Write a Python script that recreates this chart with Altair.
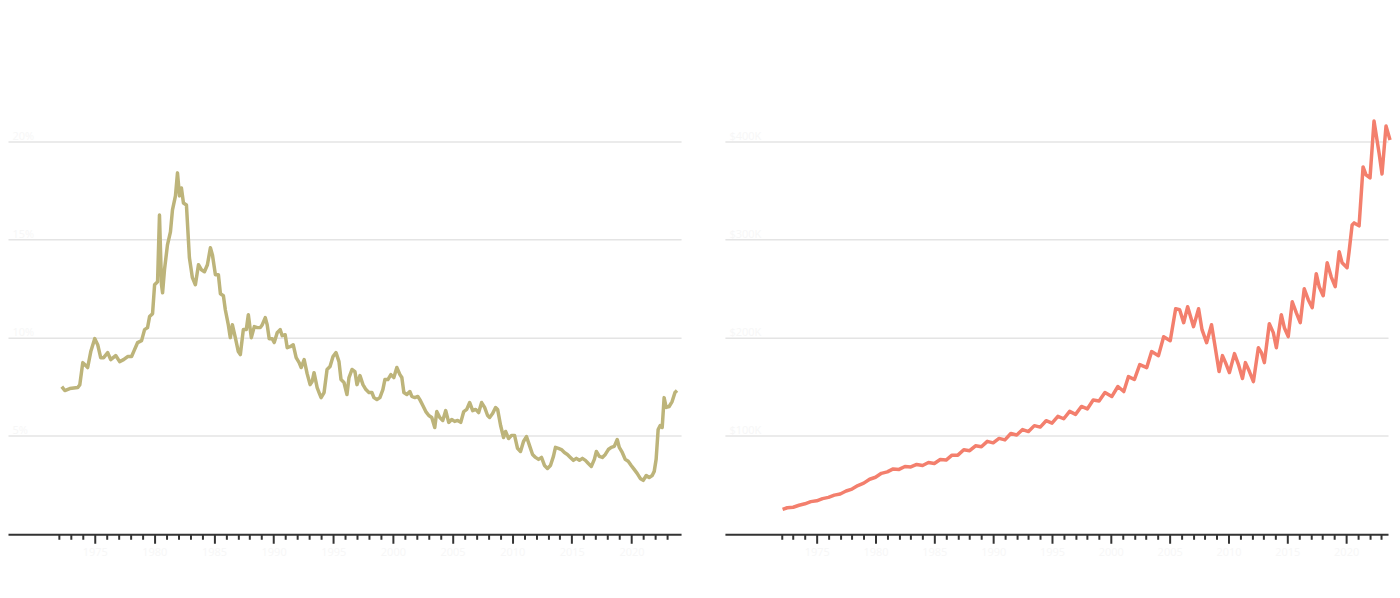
import altair as alt
import pandas as pd

# Left panel: 30-year mortgage rate (%)
years_left = [1972.24, 1972.49, 1972.91, 1973.58, 1973.75, 1974.00, 1974.25, 1974.41, 1974.67, 1975.00,
              1975.25, 1975.50, 1975.75, 1976.09, 1976.34, 1976.76, 1977.09, 1977.42, 1977.76, 1978.09,
              1978.34, 1978.60, 1978.93, 1979.18, 1979.43, 1979.60, 1979.85, 1980.02, 1980.27, 1980.43,
              1980.60, 1980.69, 1980.85, 1981.10, 1981.35, 1981.52, 1981.77, 1981.94, 1982.11, 1982.27,
              1982.44, 1982.69, 1982.94, 1983.19, 1983.44, 1983.70, 1983.95, 1984.20, 1984.45, 1984.70,
              1984.87, 1985.12, 1985.37, 1985.54, 1985.79, 1985.95, 1986.20, 1986.37, 1986.54, 1986.79,
              1987.04, 1987.21, 1987.46, 1987.71, 1987.88, 1988.13, 1988.38, 1988.63, 1988.88, 1989.05,
              1989.30, 1989.46, 1989.63, 1989.88, 1990.05, 1990.30, 1990.55, 1990.72, 1990.97, 1991.14,
              1991.39, 1991.64, 1991.89, 1992.14, 1992.31, 1992.56, 1992.81, 1993.06, 1993.23, 1993.39,
              1993.65, 1993.81, 1993.98, 1994.23, 1994.48, 1994.73, 1994.98, 1995.23, 1995.48, 1995.65,
              1995.90, 1996.15, 1996.32, 1996.57, 1996.82, 1996.99, 1997.24, 1997.49, 1997.74, 1997.99,
              1998.24, 1998.41, 1998.66, 1998.91, 1999.16, 1999.33, 1999.58, 1999.83, 2000.08, 2000.33,
              2000.59, 2000.75, 2000.92, 2001.17, 2001.42, 2001.59, 2001.84, 2002.09, 2002.26, 2002.51,
              2002.76, 2003.01, 2003.26, 2003.51, 2003.68, 2003.93, 2004.18, 2004.43, 2004.68, 2004.93,
              2005.18, 2005.43, 2005.69, 2005.94, 2006.19, 2006.44, 2006.69, 2006.94, 2007.19, 2007.44,
              2007.69, 2007.94, 2008.11, 2008.36, 2008.61, 2008.78, 2009.03, 2009.28, 2009.45, 2009.70,
              2009.95, 2010.20, 2010.45, 2010.70, 2010.95, 2011.20, 2011.45, 2011.71, 2011.96, 2012.21,
              2012.46, 2012.71, 2012.96, 2013.21, 2013.46, 2013.63, 2013.88, 2014.13, 2014.38, 2014.63,
              2014.88, 2015.13, 2015.38, 2015.64, 2015.89, 2016.14, 2016.39, 2016.64, 2016.89, 2017.06,
              2017.31, 2017.56, 2017.81, 2018.06, 2018.31, 2018.56, 2018.81, 2018.98, 2019.23, 2019.48,
              2019.73, 2019.98, 2020.23, 2020.48, 2020.74, 2020.99, 2021.24, 2021.49, 2021.74, 2021.91,
              2022.07, 2022.24, 2022.41, 2022.58, 2022.74, 2022.91, 2023.16, 2023.41, 2023.65, 2023.82]
rates_left = [7.51, 7.31, 7.41, 7.46, 7.61, 8.73, 8.58, 8.48, 9.29, 9.95,
              9.64, 8.98, 8.98, 9.24, 8.88, 9.09, 8.78, 8.88, 9.04, 9.04,
              9.39, 9.75, 9.85, 10.41, 10.51, 11.07, 11.22, 12.69, 12.84, 16.24,
              12.69, 12.28, 13.45, 14.72, 15.38, 16.50, 17.21, 18.38, 17.21, 17.61,
              16.85, 16.75, 14.06, 13.05, 12.69, 13.71, 13.45, 13.35, 13.71, 14.57,
              14.21, 13.20, 13.20, 12.23, 12.13, 11.42, 10.66, 10.00, 10.66, 10.00,
              9.29, 9.14, 10.41, 10.41, 11.17, 10.00, 10.56, 10.51, 10.51, 10.66,
              11.02, 10.66, 9.95, 9.95, 9.75, 10.25, 10.41, 10.10, 10.15, 9.49,
              9.54, 9.64, 8.98, 8.73, 8.48, 8.88, 8.17, 7.61, 7.77, 8.22,
              7.46, 7.21, 6.95, 7.21, 8.38, 8.53, 9.04, 9.24, 8.78, 7.87,
              7.72, 7.11, 7.97, 8.38, 8.27, 7.61, 8.07, 7.61, 7.36, 7.21,
              7.21, 6.95, 6.85, 6.95, 7.36, 7.87, 7.87, 8.12, 7.97, 8.48,
              8.12, 7.97, 7.21, 7.11, 7.26, 7.01, 6.95, 7.01, 6.85, 6.55,
              6.24, 6.04, 5.94, 5.43, 6.24, 5.94, 5.79, 6.29, 5.69, 5.84,
              5.74, 5.79, 5.69, 6.24, 6.35, 6.70, 6.29, 6.35, 6.19, 6.70,
              6.45, 6.04, 5.94, 6.14, 6.45, 6.35, 5.53, 4.92, 5.23, 4.87,
              5.03, 5.03, 4.37, 4.21, 4.72, 4.97, 4.52, 4.06, 3.91, 3.81,
              3.91, 3.50, 3.35, 3.50, 3.96, 4.42, 4.37, 4.31, 4.16, 4.06,
              3.91, 3.76, 3.86, 3.76, 3.86, 3.76, 3.60, 3.45, 3.81, 4.21,
              3.96, 3.91, 4.06, 4.31, 4.42, 4.47, 4.82, 4.42, 4.16, 3.81,
              3.71, 3.50, 3.30, 3.10, 2.84, 2.74, 2.99, 2.89, 2.99, 3.20,
              3.81, 5.33, 5.53, 5.43, 6.95, 6.45, 6.50, 6.75, 7.21, 7.31]

# Right panel: median home price (thousands of dollars)
years_right = [1972.1, 1972.5, 1973.0, 1973.5, 1974.0, 1974.5, 1975.0, 1975.5, 1976.0, 1976.5,
               1977.0, 1977.5, 1978.0, 1978.5, 1979.0, 1979.5, 1980.0, 1980.5, 1981.0, 1981.5,
               1982.0, 1982.5, 1983.0, 1983.5, 1984.0, 1984.5, 1985.0, 1985.5, 1986.0, 1986.5,
               1987.0, 1987.5, 1988.0, 1988.5, 1989.0, 1989.5, 1990.0, 1990.5, 1991.0, 1991.5,
               1992.0, 1992.5, 1993.0, 1993.5, 1994.0, 1994.5, 1995.0, 1995.5, 1996.0, 1996.5,
               1997.0, 1997.5, 1998.0, 1998.5, 1999.0, 1999.5, 2000.08, 2000.6, 2001.1, 2001.5,
               2002.0, 2002.46, 2003.05, 2003.47, 2004.05, 2004.49, 2005.05, 2005.51, 2005.85, 2006.19,
               2006.53, 2006.78, 2007.03, 2007.46, 2007.75, 2008.14, 2008.56, 2008.81, 2009.2, 2009.49,
               2009.75, 2010.08, 2010.51, 2010.85, 2011.19, 2011.44, 2011.78, 2012.12, 2012.54, 2012.8,
               2013.05, 2013.47, 2013.81, 2014.07, 2014.49, 2014.75, 2015.08, 2015.42, 2015.76, 2016.1,
               2016.44, 2016.78, 2017.12, 2017.46, 2017.71, 2018.05, 2018.39, 2018.73, 2019.07, 2019.41,
               2019.66, 2020.08, 2020.25, 2020.51, 2020.68, 2021.10, 2021.44, 2021.69, 2022.03, 2022.37,
               2022.80, 2023.05, 2023.39, 2023.73]
prices_right = [25.4, 27.0, 27.5, 29.5, 31.0, 33.2, 34.0, 36.3, 37.5, 39.8,
                41.0, 44.0, 46.0, 49.5, 52.0, 56.0, 58.0, 62.0, 63.5, 66.5,
                66.0, 69.0, 68.5, 71.0, 70.0, 73.0, 72.0, 76.0, 75.5, 80.5,
                80.5, 86.0, 85.0, 90.0, 89.0, 94.5, 93.0, 97.5, 96.0, 102.5,
                101.0, 106.5, 104.5, 110.5, 109.0, 115.5, 113.0, 120.0, 117.5, 125.0,
                122.0, 130.0, 127.5, 136.5, 135.5, 144.2, 140.1, 150.3, 145.2, 160.4,
                157.4, 172.6, 169.5, 185.8, 181.7, 201.0, 196.9, 229.4, 228.4, 215.2,
                231.5, 221.3, 211.2, 229.4, 208.1, 194.9, 213.2, 194.9, 165.5, 181.7,
                174.6, 164.5, 183.8, 172.6, 158.4, 174.6, 165.5, 155.3, 189.8, 184.8,
                174.6, 214.2, 205.1, 189.8, 223.3, 210.1, 201.0, 236.5, 225.4, 215.2,
                249.7, 238.6, 230.5, 265.0, 251.8, 242.6, 276.1, 261.9, 251.8, 287.3,
                276.1, 271.1, 287.3, 314.7, 316.7, 313.7, 373.6, 365.5, 362.4, 420.3,
                387.8, 366.5, 415.2, 401.0]

x_ticks = list(range(1972, 2024))
left_y_ticks = [5, 10, 15, 20]
right_y_ticks = [100, 200, 300, 400]

left_df = pd.DataFrame({"year": years_left, "rate": rates_left})
right_df = pd.DataFrame({"year": years_right, "price": prices_right})

FAINT = "#f7f7f7"
DARK = "#333333"
GRID = "#e4e4e4"
PLOT_H = 493


def x_axis():
    return alt.Axis(
        values=x_ticks,
        format="d",
        labelExpr="datum.value % 5 === 0 ? datum.label : ''",
        grid=False,
        domainColor=DARK,
        domainWidth=2,
        tickColor=DARK,
        tickWidth=2,
        tickSize={"condition": {"test": "datum.value % 5 === 0", "value": 9}, "value": 5},
        labelColor=FAINT,
        labelFontSize=11,
        labelFont="Noto Sans",
        labelPadding=3,
        title=None,
    )


def y_axis(values, expr):
    return alt.Axis(
        values=values,
        grid=True,
        gridColor=GRID,
        gridWidth=1.5,
        domain=False,
        ticks=False,
        tickSize=0,
        labelAlign="left",
        labelBaseline="bottom",
        labelPadding=-4,
        labelColor=FAINT,
        labelFontSize=11,
        labelFont="Noto Sans",
        labelExpr=expr,
        title=None,
    )


left = alt.Chart(left_df).mark_line(
    color="#bdb47a", strokeWidth=3.5, strokeJoin="round"
).encode(
    x=alt.X("year:Q", scale=alt.Scale(domain=[1967.73, 2024.16], nice=False, zero=False), axis=x_axis()),
    y=alt.Y("rate:Q", scale=alt.Scale(domain=[0, 25], nice=False),
            axis=y_axis(left_y_ticks, "datum.value + '%'")),
).properties(width=675, height=PLOT_H)

right = alt.Chart(right_df).mark_line(
    color="#f37f6d", strokeWidth=3.5, strokeJoin="round"
).encode(
    x=alt.X("year:Q", scale=alt.Scale(domain=[1967.2, 2023.56], nice=False, zero=False), axis=x_axis()),
    y=alt.Y("price:Q", scale=alt.Scale(domain=[0, 500], nice=False),
            axis=y_axis(right_y_ticks, "'$' + datum.value + 'K'")),
).properties(width=665, height=PLOT_H)

chart = alt.hconcat(left, right, spacing=44).properties(
    padding={"left": 0, "top": 34, "right": 0, "bottom": 5}
).configure_view(stroke=None)

chart.save("out.html", embed_options={"renderer": "svg", "actions": False})
